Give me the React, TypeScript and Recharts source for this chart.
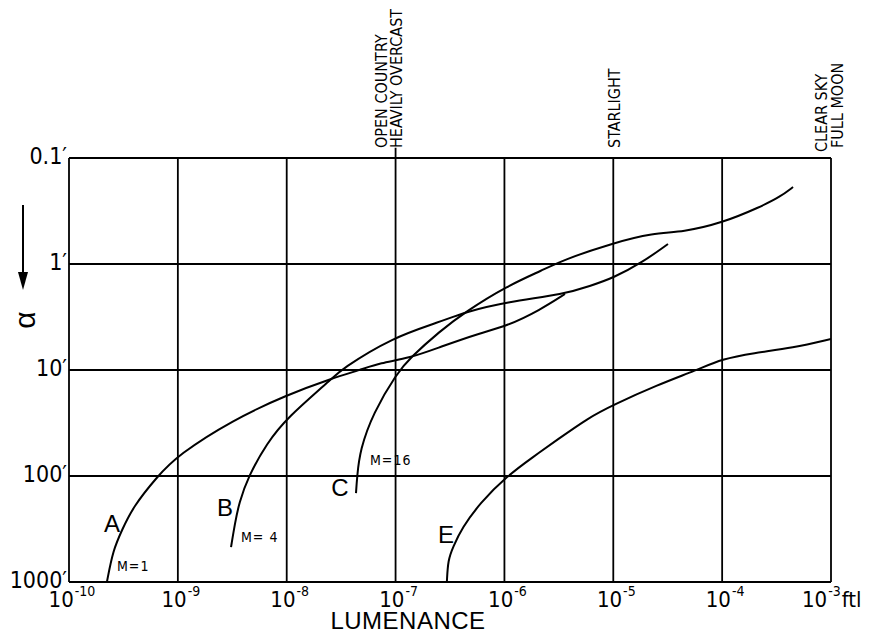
import React from 'react';
import { LineChart, Line, XAxis, YAxis, CartesianGrid, ReferenceLine } from 'recharts';

const xTicks = [1e-10, 1e-9, 1e-8, 1e-7, 1e-6, 1e-5, 1e-4, 1e-3];
const xTickExponents = ['-10', '-9', '-8', '-7', '-6', '-5', '-4', '-3'];
const xUnit = 'ftl';
const yTicks = [0.1, 1, 10, 100, 1000];
const yTickLabels = ['0.1′', '1′', '10′', '100′', '1000′'];

// Curve A (M=1)
const curveA = [
  { x: 2.23e-10, y: 1000 },
  { x: 2.54e-10, y: 499 },
  { x: 3.07e-10, y: 323 },
  { x: 3.87e-10, y: 196 },
  { x: 6.43e-10, y: 102 },
  { x: 1e-9, y: 63.4 },
  { x: 3.21e-9, y: 29.5 },
  { x: 1e-8, y: 17.2 },
  { x: 2.66e-8, y: 11.9 },
  { x: 4.71e-8, y: 10 },
  { x: 7.19e-8, y: 8.59 },
  { x: 1.355e-7, y: 7.71 },
  { x: 2.56e-7, y: 6.07 },
  { x: 5.96e-7, y: 4.48 },
  { x: 1.057e-6, y: 3.85 },
  { x: 2.12e-6, y: 2.72 },
  { x: 3.6e-6, y: 1.92 },
];

// Curve B (M=4)
const curveB = [
  { x: 3.08e-9, y: 468 },
  { x: 3.35e-9, y: 277 },
  { x: 3.65e-9, y: 180 },
  { x: 4.41e-9, y: 102 },
  { x: 6.59e-9, y: 48.9 },
  { x: 1e-8, y: 28.4 },
  { x: 2.66e-8, y: 11.9 },
  { x: 3.09e-8, y: 10 },
  { x: 9.46e-8, y: 4.89 },
  { x: 2.56e-7, y: 3.52 },
  { x: 4.35e-7, y: 2.84 },
  { x: 1.057e-6, y: 2.28 },
  { x: 3.6e-6, y: 1.92 },
  { x: 6.11e-6, y: 1.61 },
  { x: 9.93e-6, y: 1.36 },
  { x: 1.875e-5, y: 0.957 },
  { x: 3.18e-5, y: 0.647 },
];

// Curve C (M=16)
const curveC = [
  { x: 4.33e-8, y: 145 },
  { x: 4.43e-8, y: 102 },
  { x: 4.71e-8, y: 56.9 },
  { x: 6.21e-8, y: 25.5 },
  { x: 1.03e-7, y: 10.7 },
  { x: 1.355e-7, y: 7.71 },
  { x: 2.56e-7, y: 4.29 },
  { x: 4.35e-7, y: 2.84 },
  { x: 1.057e-6, y: 1.61 },
  { x: 2.26e-6, y: 1.14 },
  { x: 3.45e-6, y: 0.916 },
  { x: 9.93e-6, y: 0.634 },
  { x: 2.32e-5, y: 0.511 },
  { x: 4.37e-5, y: 0.499 },
  { x: 1e-4, y: 0.41 },
  { x: 2.23e-4, y: 0.29 },
  { x: 3.4e-4, y: 0.233 },
  { x: 4.48e-4, y: 0.188 },
];

// Curve E
const curveE = [
  { x: 2.96e-7, y: 1000 },
  { x: 3.03e-7, y: 619 },
  { x: 3.37e-7, y: 468 },
  { x: 4.07e-7, y: 310 },
  { x: 5.96e-7, y: 180 },
  { x: 1.057e-6, y: 100 },
  { x: 1.83e-6, y: 66.2 },
  { x: 3.04e-6, y: 45.7 },
  { x: 5.86e-6, y: 28.4 },
  { x: 9.93e-6, y: 21.4 },
  { x: 2.52e-5, y: 13.9 },
  { x: 5.87e-5, y: 10 },
  { x: 1e-4, y: 7.87 },
  { x: 1.92e-4, y: 6.92 },
  { x: 4.48e-4, y: 6.19 },
  { x: 1e-3, y: 5.1 },
];

const FONT = "'DejaVu Sans Condensed', 'DejaVu Sans', 'Liberation Sans', Arial, sans-serif";
const FONT_REG = "'Liberation Sans', Arial, sans-serif";

const idxOf = (arr: number[], v: number) =>
  arr.findIndex((t) => Math.abs(Math.log10(t) - Math.log10(v)) < 1e-6);

const XTick = (props: any) => {
  const { x, payload } = props;
  const i = idxOf(xTicks, payload.value);
  const last = i === xTicks.length - 1;
  return (
    <text
      x={last ? x - 29 : x + 3}
      y={599}
      textAnchor={last ? 'start' : 'middle'}
      fontFamily={FONT}
      fontSize={22}
      fill="#000"
    >
      <tspan>10</tspan>
      <tspan dx={1} dy={-11} fontSize={14}>{xTickExponents[i]}</tspan>
      {last ? <tspan dx={1} dy={11} fontSize={22}>{xUnit}</tspan> : null}
    </text>
  );
};

const YTick = (props: any) => {
  const { y, payload } = props;
  const i = idxOf(yTicks, payload.value);
  return (
    <text x={59} y={y + 6} textAnchor="end" fontFamily={FONT} fontSize={23} fill="#000">
      {yTickLabels[i]}
    </text>
  );
};

const topLabels = [
  { text: 'OPEN COUNTRY', x: 379, y: 140 },
  { text: 'HEAVILY OVERCAST', x: 394, y: 140 },
  { text: 'STARLIGHT', x: 612, y: 140 },
  { text: 'CLEAR SKY', x: 819, y: 144 },
  { text: 'FULL MOON', x: 835, y: 140 },
];

const curveLabels = [
  { text: 'A', x: 104, y: 524 },
  { text: 'B', x: 217, y: 508 },
  { text: 'C', x: 332, y: 488 },
  { text: 'E', x: 438, y: 535 },
];

const mLabels = [
  { text: 'M=1', x: 109, y: 563 },
  { text: 'M= 4', x: 233, y: 534 },
  { text: 'M=16', x: 362, y: 457 },
];

export default function App() {
  const W = 856;
  const H = 619;
  return (
    <div style={{ position: 'relative', width: W, height: 627 }}>
      <LineChart width={W} height={H} margin={{ top: 150, right: 33, bottom: 0, left: 0 }}>
        <CartesianGrid stroke="#000" strokeWidth={1.8} />
        <XAxis
          dataKey="x"
          type="number"
          scale="log"
          domain={[1e-10, 1e-3]}
          ticks={xTicks}
          allowDataOverflow
          axisLine={false}
          tickLine={false}
          height={45}
          tick={<XTick />}
          interval={0}
        />
        <YAxis
          type="number"
          scale="log"
          domain={[0.1, 1000]}
          ticks={yTicks}
          reversed
          allowDataOverflow
          axisLine={false}
          tickLine={false}
          width={61}
          tick={<YTick />}
          interval={0}
        />
        <ReferenceLine
          segment={[{ x: 1e-7, y: 0.1 }, { x: 1e-7, y: 0.08 }]}
          stroke="#000"
          strokeWidth={1.8}
          ifOverflow="visible"
        />
        <Line data={curveA} dataKey="y" type="basis" dot={false} stroke="#000" strokeWidth={2} isAnimationActive={false} />
        <Line data={curveB} dataKey="y" type="basis" dot={false} stroke="#000" strokeWidth={2} isAnimationActive={false} />
        <Line data={curveC} dataKey="y" type="basis" dot={false} stroke="#000" strokeWidth={2} isAnimationActive={false} />
        <Line data={curveE} dataKey="y" type="basis" dot={false} stroke="#000" strokeWidth={2} isAnimationActive={false} />
      </LineChart>
      <svg
        width={W}
        height={627}
        style={{ position: 'absolute', left: 0, top: 0, pointerEvents: 'none' }}
      >
        {topLabels.map((l) => (
          <text
            key={l.text}
            x={l.x}
            y={l.y}
            transform={`rotate(-90, ${l.x}, ${l.y})`}
            textAnchor="start"
            fontFamily={FONT}
            fontSize={16}
            fill="#000"
          >
            {l.text}
          </text>
        ))}
        {curveLabels.map((l) => (
          <text key={l.text} x={l.x} y={l.y} textAnchor="middle" fontFamily={FONT_REG} fontSize={24} fill="#000">
            {l.text}
          </text>
        ))}
        {mLabels.map((l) => (
          <text key={l.text} x={l.x} y={l.y} fontFamily={FONT} fontSize={14} letterSpacing={1} fill="#000">
            {l.text}
          </text>
        ))}
        <text x={400} y={621} textAnchor="middle" fontFamily={FONT_REG} fontSize={24} letterSpacing={0.5} fill="#000">
          LUMENANCE
        </text>
        <line x1={15} y1={197} x2={15} y2={268} stroke="#000" strokeWidth={2} />
        <polygon points="10,264 20,264 15,282" fill="#000" />
        <text
          x={16}
          y={312}
          transform="rotate(-90, 16, 312)"
          textAnchor="middle"
          dominantBaseline="central"
          fontFamily={FONT_REG}
          fontSize={30}
          fill="#000"
        >
          α
        </text>
      </svg>
    </div>
  );
}
